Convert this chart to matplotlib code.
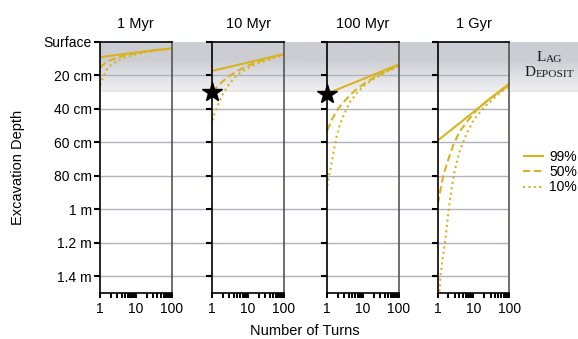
import numpy as np
import matplotlib
matplotlib.use('Agg')
import matplotlib.pyplot as plt

plt.rcParams['font.family'] = ['Liberation Sans', 'DejaVu Sans']

# depth (cm) vs number of turns
titles = ['1 Myr', '10 Myr', '100 Myr', '1 Gyr']

n99 = [1, 3, 10, 30, 100]
d99 = [
    [9.2, 7.9, 6.5, 5.2, 4.0],
    [17.4, 15.0, 12.4, 10.0, 7.4],
    [31, 26.8, 22.3, 18.1, 13.6],
    [59, 50.9, 42, 33.7, 25],
]

n50 = [
    [1, 1.25, 1.5, 2, 3, 5, 10, 20, 50, 100],
    [1, 1.5, 2, 3, 5, 10, 20, 30, 50, 100],
    [1, 1.3, 2, 3.5, 6, 10, 20, 50, 100],
    [1, 1.16, 1.43, 2, 2.7, 4, 7, 12, 25, 54, 100],
]
d50 = [
    [15.5, 13.6, 12.2, 11, 9.6, 8.1, 6.8, 5.7, 4.6, 4.1],
    [30, 26, 23.5, 20.5, 17.5, 14.3, 11.8, 10.5, 9.1, 7.6],
    [53, 47, 40, 34, 29, 25.5, 21.5, 17, 14.2],
    [97, 90, 80, 70, 62, 54, 47, 41, 35, 30, 26],
]

n10 = [
    [1, 1.2, 1.5, 2, 3, 5, 10, 20, 50, 100],
    [1, 1.2, 1.5, 2, 3, 5, 10, 20, 30, 50, 100],
    [1, 1.12, 1.33, 1.55, 1.8, 2.3, 3, 4.3, 6.5, 11, 21, 45, 100],
    [1, 1.1, 1.2, 1.4, 1.65, 1.8, 2.1, 2.5, 3, 4, 6.4, 10, 19, 36, 68, 100],
]
d10 = [
    [26, 21.5, 17, 14, 11.7, 9.4, 7.6, 6.2, 5.0, 4.3],
    [47, 42, 37, 31, 25, 19.8, 15.6, 12.8, 11.5, 9.8, 7.8],
    [86, 80, 72, 64, 57, 49, 43, 36, 31, 26, 22, 18, 14.6],
    [162, 150, 140, 128, 118, 110, 98, 86, 77, 66, 55, 47, 39.5, 34, 29, 26.5],
]

# stars (panel index, turns, depth)
stars = [(1, 1, 30), (2, 1, 31)]

ytick_vals = [0, 20, 40, 60, 80, 100, 120, 140]
ytick_labels = ['Surface', '20 cm', '40 cm', '60 cm', '80 cm', '1 m', '1.2 m', '1.4 m']
lag_depth = 30

W, H = 578, 339
gold = '#d8b320'

fig = plt.figure(figsize=(W / 100, H / 100), dpi=100)

def fx(px):
    return px / W

def fy(py):
    return 1 - py / H

top_px, bot_px = 41.7, 293
lefts = [100, 212.3, 327.3, 437.7]
pw = 71.5
ymax = 150

# gray lag deposit band
band_bottom_px = top_px + (bot_px - top_px) * lag_depth / ymax
band = fig.add_axes([fx(100), fy(band_bottom_px), 1 - fx(100), fy(top_px) - fy(band_bottom_px)])
band.set_axis_off()
t = np.linspace(0, 1, 200)
c_top = np.array([204, 205, 211]) / 255
c_bot = np.array([241, 241, 244]) / 255
w = np.clip((t - 0.35) / 0.65, 0, 1)
grad = c_top[None, :] * (1 - w[:, None]) + c_bot[None, :] * w[:, None]
band.imshow(grad[:, None, :], aspect='auto', extent=[0, 1, 1, 0])
band.axhline(0.985, color='#e6e6ea', lw=1.2)
band.set_xlim(0, 1)
band.set_ylim(1, 0)

# grid lines running across all panels
bg = fig.add_axes([fx(100), fy(bot_px), fx(lefts[-1] + pw) - fx(100), fy(top_px) - fy(bot_px)])
bg.set_axis_off()
bg.patch.set_alpha(0)
bg.set_ylim(ymax, 0)
bg.set_xlim(0, 1)
for v in ytick_vals[1:]:
    bg.axhline(v, color='#b2b2ba', lw=1.0)

axes = []
for i in range(4):
    ax = fig.add_axes([fx(lefts[i]), fy(bot_px), pw / W, fy(top_px) - fy(bot_px)])
    ax.patch.set_alpha(0)
    ax.set_xscale('log')
    ax.set_xlim(1, 100)
    ax.set_ylim(ymax, 0)
    ax.plot(n99, d99[i], color=gold, lw=1.5, solid_capstyle='butt')
    ax.plot(n50[i], d50[i], color=gold, lw=1.5, linestyle=(0, (3.5, 1.8)))
    ax.plot(n10[i], d10[i], color=gold, lw=1.5, linestyle=(0, (1, 1.6)))
    ax.set_yticks(ytick_vals)
    if i == 0:
        ax.set_yticklabels(ytick_labels, fontsize=10)
    else:
        ax.set_yticklabels([])
    ax.set_xticks([1, 10, 100])
    ax.set_xticklabels(['1', '10', '100'], fontsize=10)
    ax.tick_params(axis='y', direction='out', length=4, width=1.5, pad=2)
    ax.tick_params(axis='x', which='both', direction='out', length=3.5, width=1.4, pad=3)
    for s in ['left', 'top', 'bottom']:
        ax.spines[s].set_color('black')
        ax.spines[s].set_linewidth(1.2)
    ax.spines['right'].set_color('#555555')
    ax.spines['right'].set_linewidth(1.2)
    fig.text(fx(lefts[i] + pw / 2), fy(24), titles[i], ha='center', va='center', fontsize=10.5)
    axes.append(ax)

for i, n, d in stars:
    axes[i].plot([n], [d], marker='*', color='black', markersize=15, clip_on=False, zorder=5)

fig.text(fx(18), fy(167), 'Excavation Depth', rotation=90, ha='center', va='center', fontsize=10.5)
fig.text(fx(305), fy(331), 'Number of Turns', ha='center', va='center', fontsize=10.5)

# legend
handles = axes[3].get_lines()[:3]
fig.legend(handles, ['99%', '50%', '10%'], loc='center left',
           bbox_to_anchor=(fx(516), fy(172)), frameon=False, fontsize=10,
           handlelength=1.5, handletextpad=0.4, labelspacing=0.1, borderpad=0)

# small caps "Lag Deposit"
def small_caps(x, y, first, rest):
    t1 = fig.text(x, y, first, fontsize=11, family='Liberation Serif', color='#1a1a1a', va='bottom')
    a = plt.Annotation(rest, xy=(1, 0), xycoords=t1, va='bottom', ha='left',
                       fontsize=8.2, family='Liberation Serif', color='#1a1a1a')
    a.set_figure(fig)
    fig.texts.append(a)

small_caps(fx(536.5), fy(64), 'L', 'AG')
small_caps(fx(525), fy(79), 'D', 'EPOSIT')

fig.savefig('out.png', dpi=100)
